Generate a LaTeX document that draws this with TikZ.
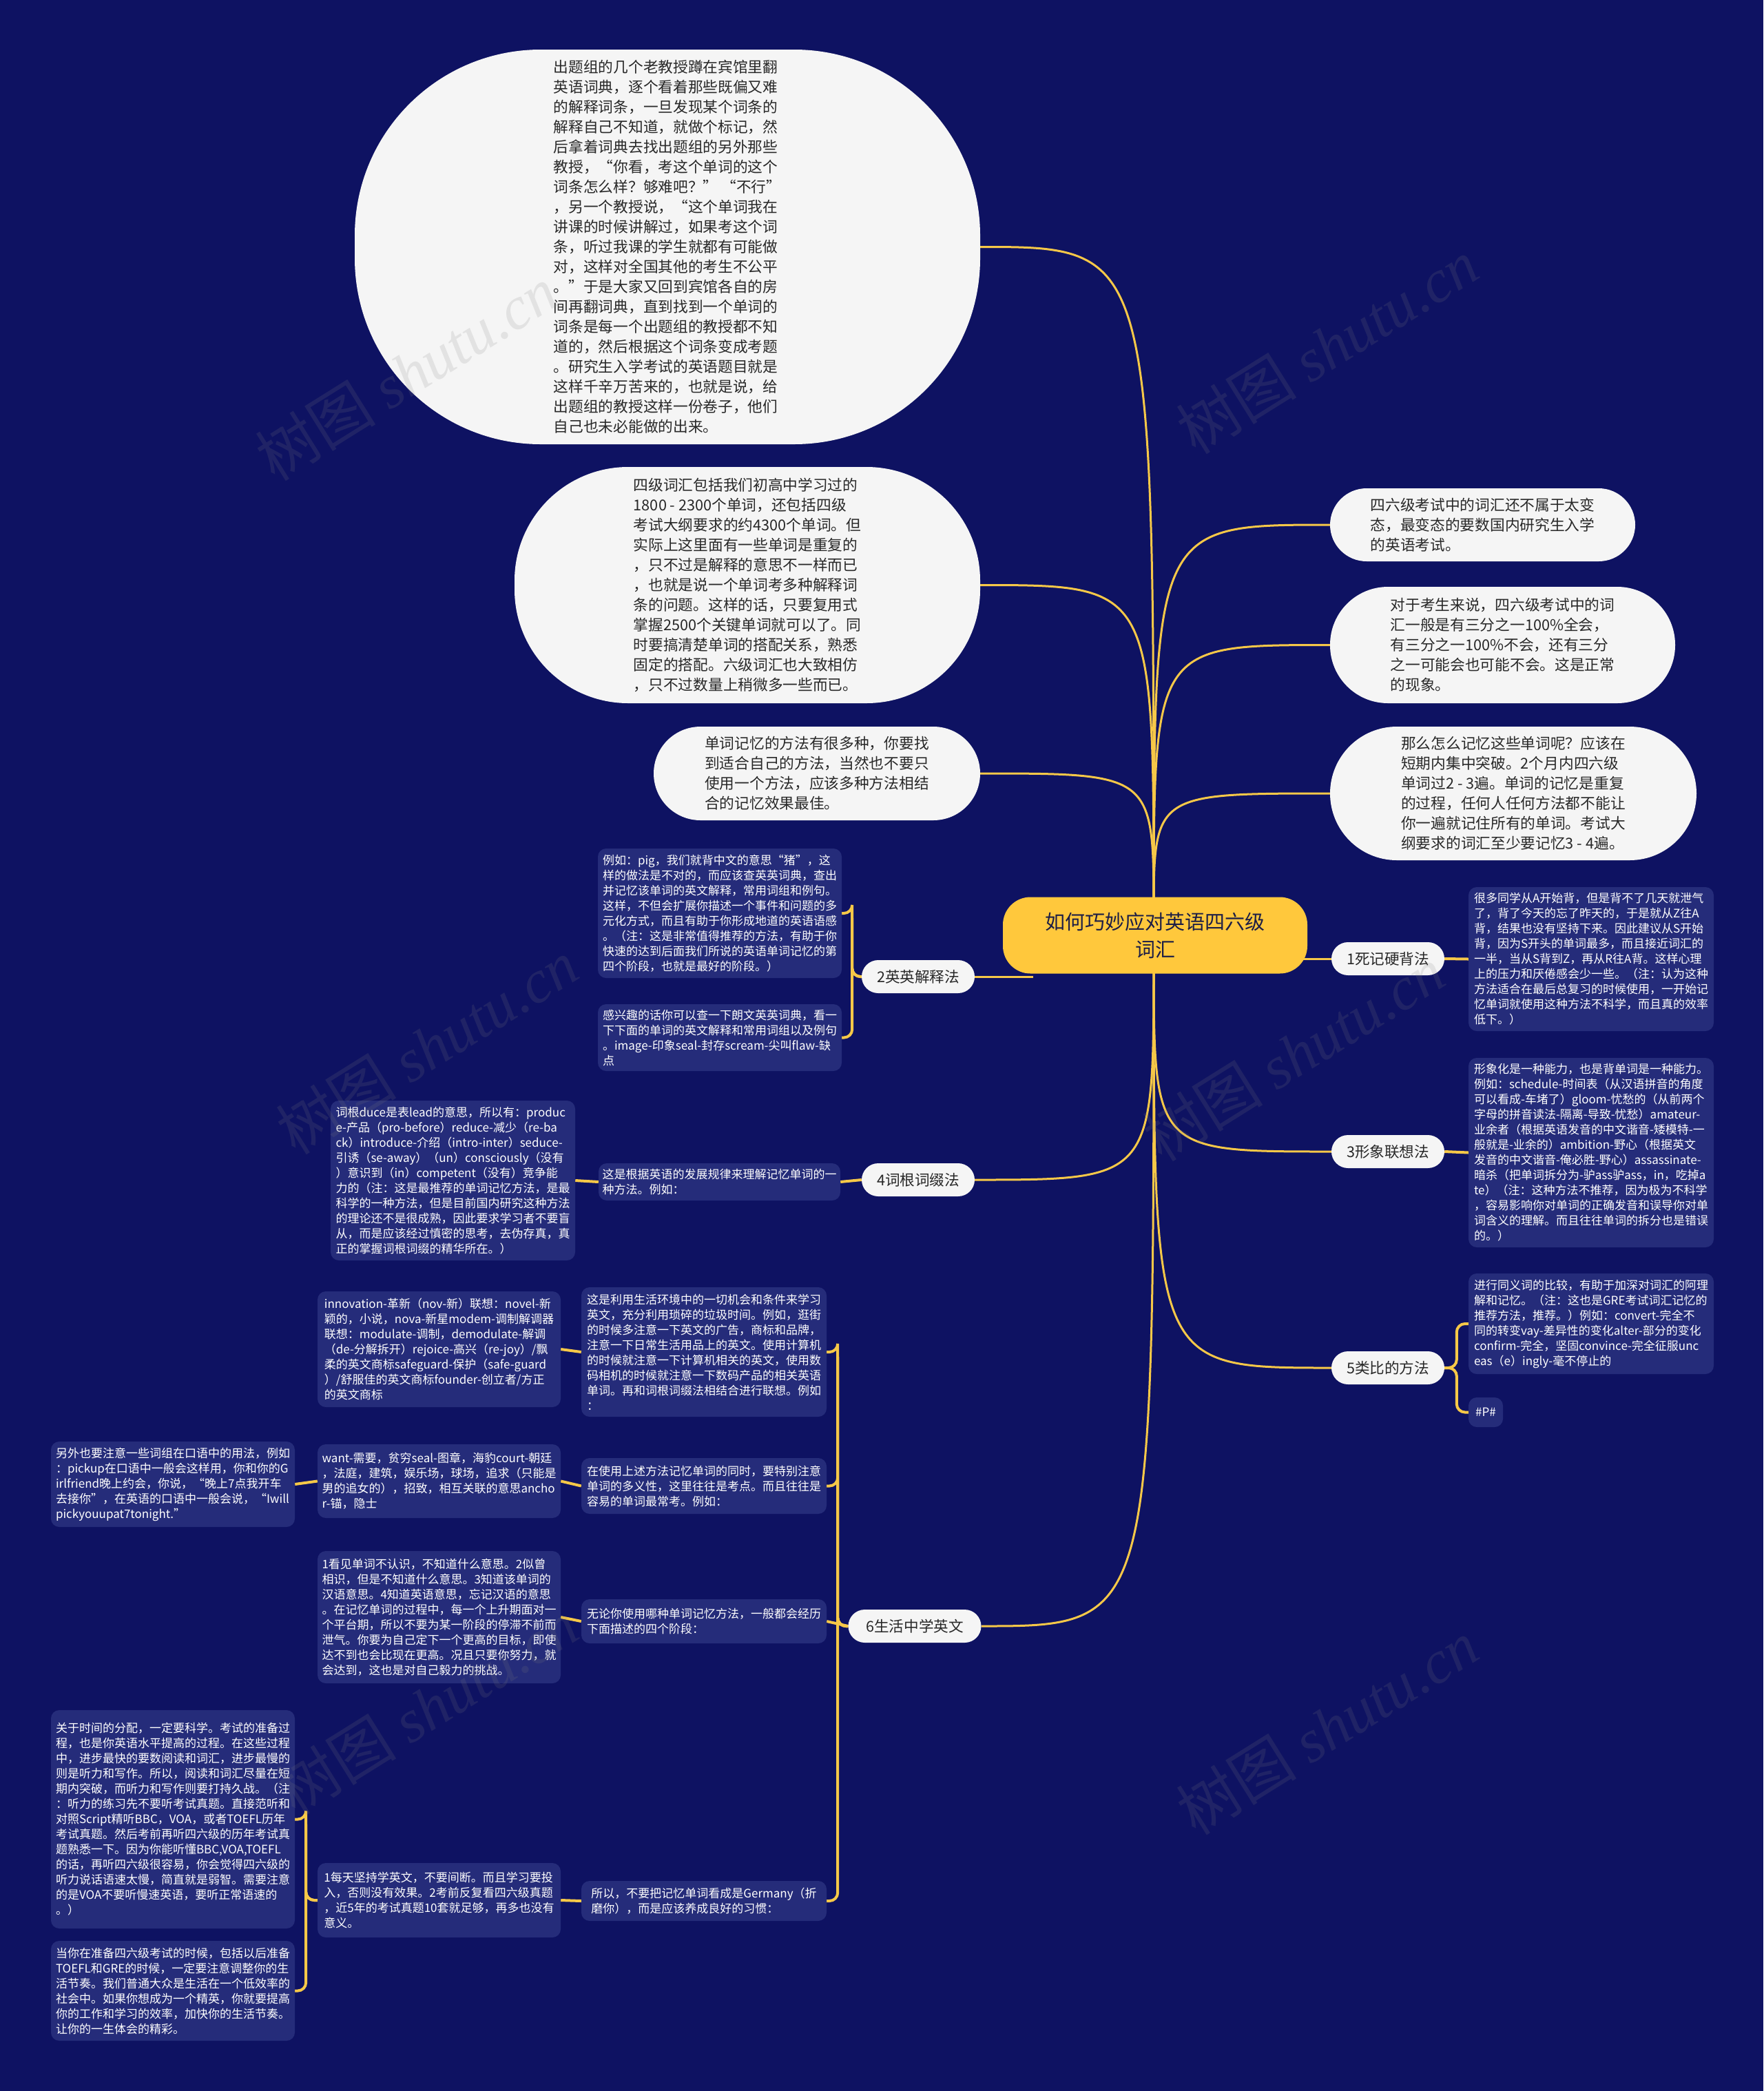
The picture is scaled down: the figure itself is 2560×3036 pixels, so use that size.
\documentclass[tikz,border=0pt]{standalone}
\usepackage{fontspec}
\setmainfont{Noto Sans CJK SC}
\newfontfamily\wmfont{Liberation Serif}
\usetikzlibrary{calc}

\definecolor{bgnavy}{RGB}{14,18,98}
\definecolor{boxblue}{RGB}{37,44,122}
\definecolor{cloud}{RGB}{245,245,245}
\definecolor{gold}{RGB}{246,200,72}
\definecolor{ink}{RGB}{40,40,40}
\definecolor{deep}{RGB}{28,30,70}
\definecolor{centre}{RGB}{255,200,60}

\pgfdeclarelayer{back}
\pgfdeclarelayer{edges}
\pgfsetlayers{back,edges,main}

\begin{document}
\begin{tikzpicture}[x=1pt, y=-1pt,
        every node/.style={inner sep=0pt, align=left},
        bubble/.style={fill=cloud, text=ink, font=\fontsize{21.7}{29}\selectfont},
        note/.style={fill=boxblue, text=white, rounded corners=12pt, font=\fontsize{17}{22}\selectfont},
        topic/.style={fill=cloud, text=ink, rounded corners=24pt, minimum width=164pt, minimum height=48pt,
            font=\fontsize{21.6}{28}\selectfont},
        link/.style={draw=gold, line width=3pt},
        tie/.style={draw=gold, line width=4pt, rounded corners=12pt},
        wmark/.style={rotate=32, text=gray, opacity=0.16, font=\fontsize{88}{100}\selectfont}
    ]

\useasboundingbox (0,0) rectangle (2560,3036);
\begin{pgfonlayer}{back}
    \fill[bgnavy] (0,0) rectangle (2560,3036);
\end{pgfonlayer}

% ---------- centre ----------
    \node[fill=centre, text=deep, rounded corners=40pt, minimum width=442pt, minimum height=111pt,
        align=center, font=\fontsize{29}{40}\selectfont] (ctr) at (1677,1358) {如何巧妙应对英语四六级\\词汇};
    \coordinate (hubN) at (1675,1330);
    \coordinate (hubS) at (1675,1390);
    \coordinate (hubE) at (1850,1392);
    \coordinate (hubW) at (1500,1418);

% ---------- upper bubbles ----------
    \node[bubble, rounded corners=270pt, minimum width=908pt, minimum height=573pt] (L1) at (969,358.5) {%
        出题组的几个老教授蹲在宾馆里翻\\英语词典，逐个看着那些既偏又难\\的解释词条，一旦发现某个词条的\\%
        解释自己不知道，就做个标记，然\\后拿着词典去找出题组的另外那些\\教授，“你看，考这个单词的这个\\%
        词条怎么样？够难吧？” “不行”\\，另一个教授说，“这个单词我在\\讲课的时候讲解过，如果考这个词\\%
        条，听过我课的学生就都有可能做\\对，这样对全国其他的考生不公平\\。”于是大家又回到宾馆各自的房\\%
        间再翻词典，直到找到一个单词的\\词条是每一个出题组的教授都不知\\道的，然后根据这个词条变成考题\\%
        。研究生入学考试的英语题目就是\\这样千辛万苦来的，也就是说，给\\出题组的教授这样一份卷子，他们\\%
        自己也未必能做的出来。};
    \node[bubble, rounded corners=165pt, minimum width=676pt, minimum height=343pt] (L2) at (1085,849.5) {%
        四级词汇包括我们初高中学习过的\\1800 - 2300个单词，还包括四级\\考试大纲要求的约4300个单词。但\\%
        实际上这里面有一些单词是重复的\\，只不过是解释的意思不一样而已\\，也就是说一个单词考多种解释词\\%
        条的问题。这样的话，只要复用式\\掌握2500个关键单词就可以了。同\\时要搞清楚单词的搭配关系，熟悉\\%
        固定的搭配。六级词汇也大致相仿\\，只不过数量上稍微多一些而已。};
    \node[bubble, rounded corners=68pt, minimum width=474pt, minimum height=136pt] (L3) at (1186,1123) {%
        单词记忆的方法有很多种，你要找\\到适合自己的方法，当然也不要只\\使用一个方法，应该多种方法相结\\%
        合的记忆效果最佳。};
    \node[bubble, rounded corners=53pt, minimum width=443pt, minimum height=106pt] (R1) at (2152.5,762) {%
        四六级考试中的词汇还不属于太变\\态，最变态的要数国内研究生入学\\的英语考试。};
    \node[bubble, rounded corners=84pt, minimum width=501pt, minimum height=169pt] (R2) at (2181.5,936.5) {%
        对于考生来说，四六级考试中的词\\汇一般是有三分之一100\%全会，\\有三分之一100\%不会，还有三分\\%
        之一可能会也可能不会。这是正常\\的现象。};
    \node[bubble, rounded corners=97pt, minimum width=532pt, minimum height=194pt] (R3) at (2197,1152) {%
        那么怎么记忆这些单词呢？应该在\\短期内集中突破。2个月内四六级\\单词过2 - 3遍。单词的记忆是重复\\%
        的过程，任何人任何方法都不能让\\你一遍就记住所有的单词。考试大\\纲要求的词汇至少要记忆3 - 4遍。};

% ---------- methods ----------
    \node[topic] (t1) at (2015,1392) {1死记硬背法};
    \node[topic] (t3) at (2015,1672) {3形象联想法};
    \node[topic] (t5) at (2015,1986) {5类比的方法};
    \node[topic] (t2) at (1333,1418) {2英英解释法};
    \node[topic] (t4) at (1333,1713) {4词根词缀法};
    \node[topic, minimum width=193pt] (t6) at (1328,2361) {6生活中学英文};

% ---------- right notes ----------
    \node[note, minimum width=356pt, minimum height=209pt] (B1) at (2310,1392.5) {%
        很多同学从A开始背，但是背不了几天就泄气\\了，背了今天的忘了昨天的，于是就从Z往A\\背，结果也没有坚持下来。因此建议从S开始\\%
        背，因为S开头的单词最多，而且接近词汇的\\一半，当从S背到Z，再从R往A背。这样心理\\上的压力和厌倦感会少一些。（注：认为这种\\%
        方法适合在最后总复习的时候使用，一开始记\\忆单词就使用这种方法不科学，而且真的效率\\低下。）};
    \node[note, minimum width=356pt, minimum height=275pt] (B3) at (2310,1673.5) {%
        形象化是一种能力，也是背单词是一种能力。\\例如：schedule-时间表（从汉语拼音的角度\\可以看成-车堵了）gloom-忧愁的（从前两个\\%
        字母的拼音读法-隔离-导致-忧愁）amateur-\\业余者（根据英语发音的中文谐音-矮模特-一\\般就是-业余的）ambition-野心（根据英文\\%
        发音的中文谐音-俺必胜-野心）assassinate-\\暗杀（把单词拆分为-驴ass驴ass，in，吃掉a\\te）（注：这种方法不推荐，因为极为不科学\\%
        ，容易影响你对单词的正确发音和误导你对单\\词含义的理解。而且往往单词的拆分也是错误\\的。）};
    \node[note, minimum width=356pt, minimum height=146pt] (C1) at (2310,1922) {%
        进行同义词的比较，有助于加深对词汇的阿理\\解和记忆。（注：这也是GRE考试词汇记忆的\\推荐方法，推荐。）例如：convert-完全不\\%
        同的转变vay-差异性的变化alter-部分的变化\\confirm-完全，坚固convince-完全征服unc\\eas（e）ingly-毫不停止的};
    \node[note, minimum width=50pt, minimum height=43pt, align=center] (C2) at (2157,2050.5) {\#P\#};

% ---------- left notes ----------
    \node[note, minimum width=354pt, minimum height=188pt] (A1) at (1045,1326) {%
        例如：pig，我们就背中文的意思“猪”，这\\样的做法是不对的，而应该查英英词典，查出\\并记忆该单词的英文解释，常用词组和例句。\\%
        这样，不但会扩展你描述一个事件和问题的多\\元化方式，而且有助于你形成地道的英语语感\\。（注：这是非常值得推荐的方法，有助于你\\%
        快速的达到后面我们所说的英语单词记忆的第\\四个阶段，也就是最好的阶段。）};
    \node[note, minimum width=354pt, minimum height=97pt] (A2) at (1045,1506.5) {%
        感兴趣的话你可以查一下朗文英英词典，看一\\下下面的单词的英文解释和常用词组以及例句\\。image-印象seal-封存scream-尖叫flaw-缺\\点};
    \node[note, minimum width=351pt, minimum height=54pt] (D1) at (1044.5,1716) {%
        这是根据英语的发展规律来理解记忆单词的一\\种方法。例如：};
    \node[note, minimum width=355pt, minimum height=232pt] (D2) at (657.5,1714) {%
        词根duce是表lead的意思，所以有：produc\\e-产品（pro-before）reduce-减少（re-ba\\ck）introduce-介绍（intro-inter）seduce-\\%
        引诱（se-away）（un）consciously（没有\\）意识到（in）competent（没有）竞争能\\力的（注：这是最推荐的单词记忆方法，是最\\%
        科学的一种方法，但是目前国内研究这种方法\\的理论还不是很成熟，因此要求学习者不要盲\\从，而是应该经过慎密的思考，去伪存真，真\\%
        正的掌握词根词缀的精华所在。）};

% ---------- living english ----------
    \node[note, minimum width=356pt, minimum height=188pt] (E1) at (1022,1963) {%
        这是利用生活环境中的一切机会和条件来学习\\英文，充分利用琐碎的垃圾时间。例如，逛街\\的时候多注意一下英文的广告，商标和品牌，\\%
        注意一下日常生活用品上的英文。使用计算机\\的时候就注意一下计算机相关的英文，使用数\\码相机的时候就注意一下数码产品的相关英语\\%
        单词。再和词根词缀法相结合进行联想。例如\\：};
    \node[note, minimum width=356pt, minimum height=81pt] (E2) at (1022,2157.5) {%
        在使用上述方法记忆单词的同时，要特别注意\\单词的多义性，这里往往是考点。而且往往是\\容易的单词最常考。例如：};
    \node[note, minimum width=356pt, minimum height=64pt] (E3) at (1022,2354) {%
        无论你使用哪种单词记忆方法，一般都会经历\\下面描述的四个阶段：};
    \node[note, minimum width=356pt, minimum height=58pt] (E4) at (1022,2760) {%
        所以，不要把记忆单词看成是Germany（折\\磨你），而是应该养成良好的习惯：};
    \node[note, minimum width=353pt, minimum height=168pt] (F1) at (637.5,1959) {%
        innovation-革新（nov-新）联想：novel-新\\颖的，小说，nova-新星modem-调制解调器\\联想：modulate-调制，demodulate-解调\\%
        （de-分解拆开）rejoice-高兴（re-joy）/飘\\柔的英文商标safeguard-保护（safe-guard\\）/舒服佳的英文商标founder-创立者/方正\\%
        的英文商标};
    \node[note, minimum width=353pt, minimum height=107pt] (F2) at (637.5,2150.5) {%
        want-需要，贫穷seal-图章，海豹court-朝廷\\，法庭，建筑，娱乐场，球场，追求（只能是\\男的追女的），招致，相互关联的意思ancho\\%
        r-锚，隐士};
    \node[note, minimum width=353pt, minimum height=192pt] (F3) at (637.5,2348) {%
        1看见单词不认识，不知道什么意思。2似曾\\相识，但是不知道什么意思。3知道该单词的\\汉语意思。4知道英语意思，忘记汉语的意思\\%
        。在记忆单词的过程中，每一个上升期面对一\\个平台期，所以不要为某一阶段的停滞不前而\\泄气。你要为自己定下一个更高的目标，即使\\%
        达不到也会比现在更高。况且只要你努力，就\\会达到，这也是对自己毅力的挑战。};
    \node[note, minimum width=353pt, minimum height=108pt] (F4) at (637.5,2759) {%
        1每天坚持学英文，不要间断。而且学习要投\\入，否则没有效果。2考前反复看四六级真题\\，近5年的考试真题10套就足够，再多也没有\\%
        意义。};
    \node[note, minimum width=354pt, minimum height=124pt] (G2) at (251,2155) {%
        另外也要注意一些词组在口语中的用法，例如\\：pickup在口语中一般会这样用，你和你的G\\irlfriend晚上约会，你说，“晚上7点我开车\\%
        去接你”，在英语的口语中一般会说，“Iwill\\pickyouupat7tonight.”};
    \node[note, minimum width=354pt, minimum height=317pt] (G4a) at (251,2641.5) {%
        关于时间的分配，一定要科学。考试的准备过\\程，也是你英语水平提高的过程。在这些过程\\中，进步最快的要数阅读和词汇，进步最慢的\\%
        则是听力和写作。所以，阅读和词汇尽量在短\\期内突破，而听力和写作则要打持久战。（注\\：听力的练习先不要听考试真题。直接范听和\\%
        对照Script精听BBC，VOA，或者TOEFL历年\\考试真题。然后考前再听四六级的历年考试真\\题熟悉一下。因为你能听懂BBC,VOA,TOEFL\\%
        的话，再听四六级很容易，你会觉得四六级的\\听力说话语速太慢，简直就是弱智。需要注意\\的是VOA不要听慢速英语，要听正常语速的\\%
        。）};
    \node[note, minimum width=354pt, minimum height=145pt] (G4b) at (251,2890.5) {%
        当你在准备四六级考试的时候，包括以后准备\\TOEFL和GRE的时候，一定要注意调整你的生\\活节奏。我们普通大众是生活在一个低效率的\\%
        社会中。如果你想成为一个精英，你就要提高\\你的工作和学习的效率，加快你的生活节奏。\\让你的一生体会的精彩。};

% ---------- connectors ----------
\begin{pgfonlayer}{edges}
    \foreach \dst/\side in {L1/east, L2/east, L3/east, R1/west, R2/west, R3/west}
        \draw[link] (hubN) .. controls (hubN |- \dst.\side) .. (\dst.\side);
    \foreach \dst/\side in {t3/west, t5/west, t4/east, t6/east}
        \draw[link] (hubS) .. controls (hubS |- \dst.\side) .. (\dst.\side);
    \draw[link] (hubE) -- (t1.west);
    \draw[link] (hubW) -- (t2.east);

    \draw[tie] (t1.east) -- (B1.west);
    \draw[tie] (t3.east) -- (B3.west);
    \foreach \kid in {C1, C2}
        \draw[tie] (t5.east) -| ($(\kid.west)+(-17,0)$) -- (\kid.west);
    \foreach \kid in {A1, A2}
        \draw[tie] (t2.west) -| ($(A1.east)+(15,0)$) |- (\kid.east);
    \draw[tie] (t4.west) -- (D1.east);
    \draw[tie] (D1.west) -- (D2.east);
    \foreach \kid in {E1, E2, E4}
        \draw[tie] (t6.west) -| ($(E1.east)+(16,0)$) |- (\kid.east);
    \draw[tie] (t6.west) -- (E3.east);
    \draw[tie] (E1.west) -- (F1.east);
    \draw[tie] (E2.west) -- (F2.east);
    \draw[tie] (F2.west) -- (G2.east);
    \draw[tie] (E3.west) -- (F3.east);
    \draw[tie] (E4.west) -- (F4.east);
    \foreach \kid in {G4a, G4b}
        \draw[tie] (F4.west) -| ($(G4a.east)+(16,0)$) |- (\kid.east);
\end{pgfonlayer}

% ---------- watermark ----------
    \foreach \wx/\wy [count=\i] in {590/542, 1927/503, 620/1520, 1878/1530, 620/2479, 1927/2508}
        \node[wmark] (wm\i) at (\wx,\wy) {树图 {\wmfont\itshape shutu.cn}};

\end{tikzpicture}
\end{document}
